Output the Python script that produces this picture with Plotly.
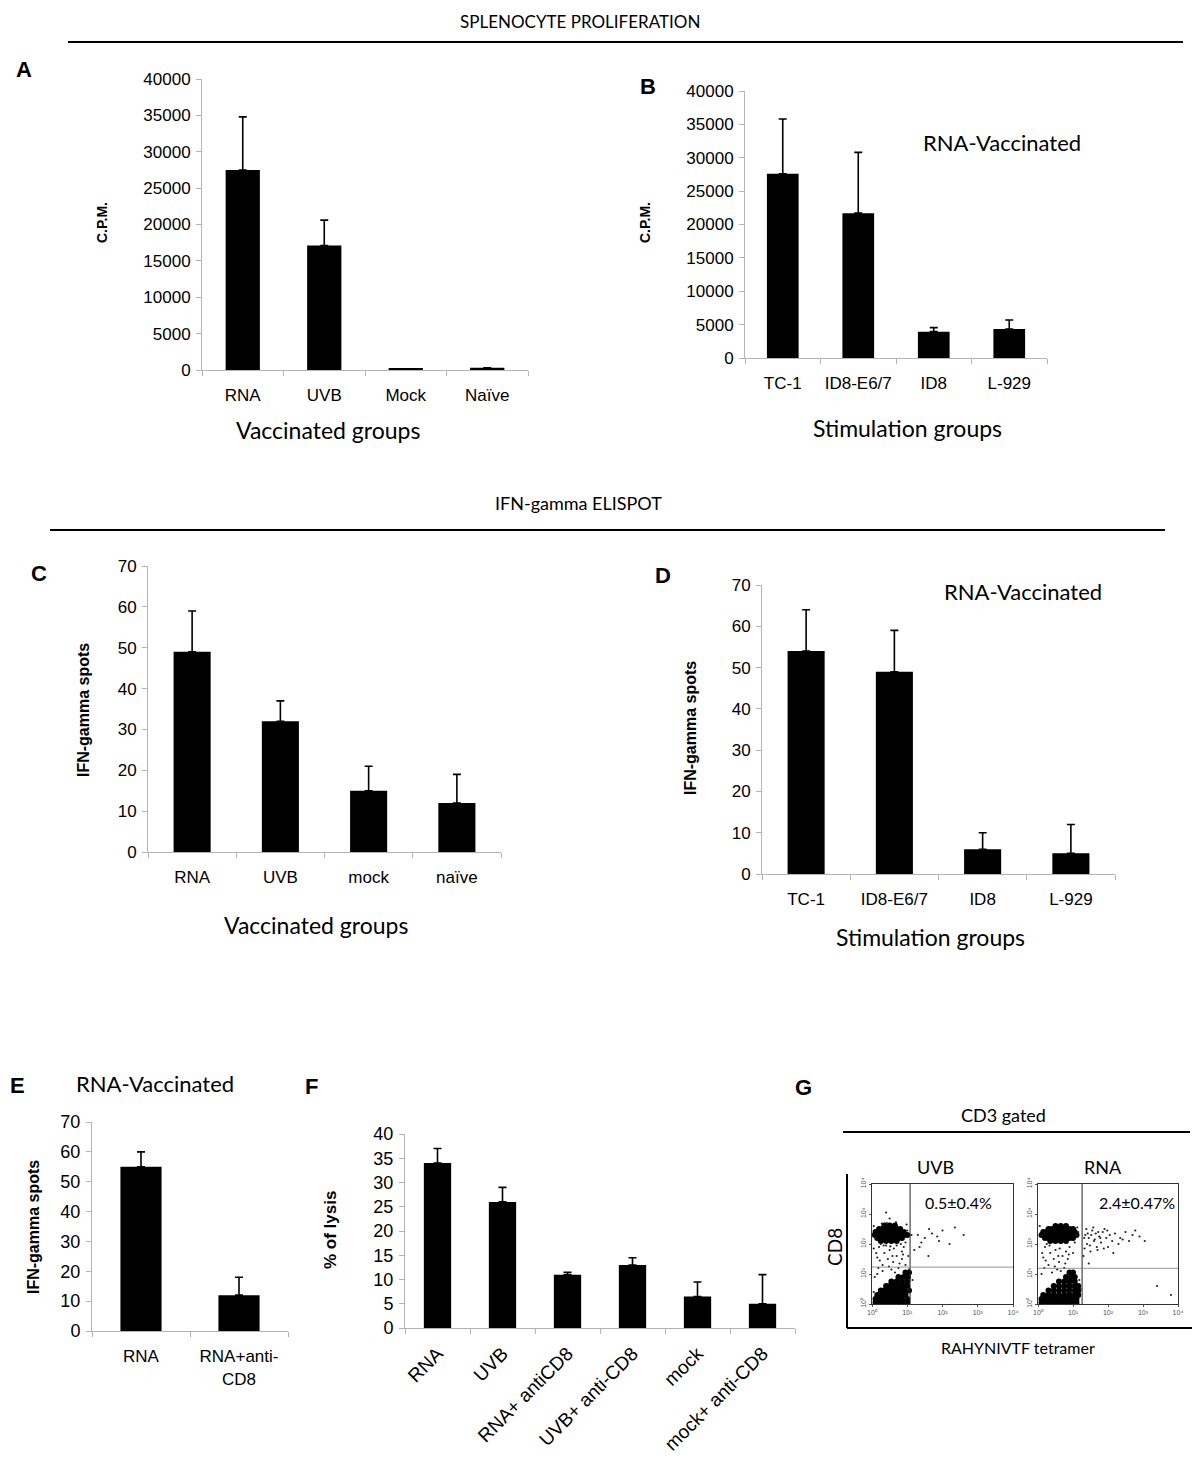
import plotly.graph_objects as go

# ---------------- DATA ----------------
a_groups = ["RNA", "UVB", "Mock", "Naïve"]
a_cpm = [27500, 17100, 150, 300]
a_sd = [7300, 3500, 0, 0]

b_groups = ["TC-1", "ID8-E6/7", "ID8", "L-929"]
b_cpm = [27600, 21700, 3950, 4350]
b_sd = [8200, 9100, 600, 1350]

c_groups = ["RNA", "UVB", "mock", "naïve"]
c_spots = [49, 32, 15, 12]
c_sd = [10, 5, 6, 7]

d_groups = ["TC-1", "ID8-E6/7", "ID8", "L-929"]
d_spots = [54, 49, 6, 5]
d_sd = [10, 10, 4, 7]

e_groups = ["RNA", "RNA+anti-<br>CD8"]
e_spots = [55, 12]
e_sd = [5, 6]

f_groups = ["RNA", "UVB", "RNA+ antiCD8", "UVB+ anti-CD8", "mock", "mock+ anti-CD8"]
f_lysis = [34, 26, 11, 13, 6.5, 5]
f_sd = [3, 3, 0.5, 1.5, 3, 6]

cpm_ticks = [0, 5000, 10000, 15000, 20000, 25000, 30000, 35000, 40000]
spot_ticks = [0, 10, 20, 30, 40, 50, 60, 70]
lysis_ticks = [0, 5, 10, 15, 20, 25, 30, 35, 40]

# flow cytometry (log10 decades), event positions
decade_vals = [0, 1, 2, 3, 4]
decade_text = ["10⁰", "10¹", "10²", "10³", "10⁴"]
uvb_gate = [1.08, 1.23]
rna_gate = [1.26, 1.19]

# dense event clouds (rows of events)
uvb_blob_x = [0.35, 0.5, 0.65,
              0.2, 0.3, 0.4, 0.5, 0.6, 0.7, 0.8,
              0.1, 0.2, 0.3, 0.4, 0.5, 0.6, 0.7, 0.8, 0.9,
              0.08, 0.2, 0.3, 0.4, 0.5, 0.6, 0.7, 0.8, 0.9, 1.0,
              0.15, 0.25, 0.35, 0.45, 0.55, 0.65, 0.75, 0.85,
              0.25, 0.4, 0.55, 0.7,
              0.1, 0.2, 0.3, 0.4, 0.5, 0.6, 0.7, 0.8, 0.9, 1.0,
              0.1, 0.2, 0.3, 0.4, 0.5, 0.6, 0.7, 0.8, 0.9, 1.0,
              0.15, 0.25, 0.35, 0.45, 0.55, 0.65, 0.75, 0.85, 0.95,
              0.25, 0.35, 0.45, 0.55, 0.65, 0.75, 0.85, 0.95, 1.05,
              0.4, 0.5, 0.6, 0.7, 0.8, 0.9, 1.0,
              0.55, 0.7, 0.85, 1.0,
              0.75, 0.9, 1.02,
              0.95, 1.05]
uvb_blob_y = [2.62, 2.62, 2.62,
              2.5, 2.5, 2.5, 2.5, 2.5, 2.5, 2.5,
              2.4, 2.4, 2.4, 2.4, 2.4, 2.4, 2.4, 2.4, 2.4,
              2.3, 2.3, 2.3, 2.3, 2.3, 2.3, 2.3, 2.3, 2.3, 2.3,
              2.2, 2.2, 2.2, 2.2, 2.2, 2.2, 2.2, 2.2,
              2.1, 2.1, 2.1, 2.1,
              0.05, 0.05, 0.05, 0.05, 0.05, 0.05, 0.05, 0.05, 0.05, 0.05,
              0.17, 0.17, 0.17, 0.17, 0.17, 0.17, 0.17, 0.17, 0.17, 0.17,
              0.3, 0.3, 0.3, 0.3, 0.3, 0.3, 0.3, 0.3, 0.3,
              0.45, 0.45, 0.45, 0.45, 0.45, 0.45, 0.45, 0.45, 0.45,
              0.6, 0.6, 0.6, 0.6, 0.6, 0.6, 0.6,
              0.75, 0.75, 0.75, 0.75,
              0.9, 0.9, 0.9,
              1.05, 1.05]
uvb_dot_x = [0.2, 0.35, 0.5, 0.7, 0.9, 0.6, 0.3, 0.85, 0.15, 0.45, 0.95, 0.75, 0.25, 0.95, 1.0,
             1.3, 1.5, 1.7, 1.9, 2.2, 2.6, 1.4, 2.0, 1.2, 1.6, 0.5, 0.4, 0.1, 0.08, 1.02,
             0.65, 0.55, 0.3, 0.85, 0.15, 1.05, 0.05, 0.4, 0.7, 0.95, 0.12, 0.22, 0.62, 0.78,
             0.33, 0.48, 0.88, 0.18, 0.58, 0.05, 1.12, 1.15, 0.05, 0.98, 0.42, 0.68, 0.28,
             0.52, 0.82, 1.03, 1.35, 1.62, 2.35, 1.85]
uvb_dot_y = [1.9, 1.7, 1.8, 1.6, 1.9, 1.4, 1.3, 1.5, 1.55, 1.5, 1.3, 1.2, 2.0, 2.05, 2.45,
             2.3, 2.2, 2.35, 2.1, 2.0, 2.3, 2.05, 2.45, 1.8, 1.6, 2.85, 3.05, 2.2, 0.9, 0.5,
             1.05, 1.15, 1.1, 1.75, 1.0, 1.15, 0.4, 1.95, 1.95, 0.2, 1.7, 1.45, 1.85, 1.35,
             1.95, 1.25, 1.65, 1.2, 1.6, 1.85, 2.3, 0.8, 2.6, 2.65, 2.7, 2.72, 2.68,
             1.92, 2.0, 1.6, 1.9, 2.5, 2.55, 2.25]

rna_blob_x = [0.5, 0.65, 0.8,
              0.3, 0.4, 0.5, 0.6, 0.7, 0.8, 0.9, 1.0,
              0.15, 0.25, 0.35, 0.45, 0.55, 0.65, 0.75, 0.85, 0.95, 1.05,
              0.1, 0.2, 0.3, 0.4, 0.5, 0.6, 0.7, 0.8, 0.9, 1.0, 1.1,
              0.2, 0.3, 0.4, 0.5, 0.6, 0.7, 0.8, 0.9, 1.0,
              0.35, 0.5, 0.65, 0.8,
              0.1, 0.2, 0.3, 0.4, 0.5, 0.6, 0.7, 0.8, 0.9, 1.0, 1.1,
              0.1, 0.2, 0.3, 0.4, 0.5, 0.6, 0.7, 0.8, 0.9, 1.0, 1.1,
              0.15, 0.3, 0.45, 0.6, 0.75, 0.9, 1.05, 1.15,
              0.3, 0.45, 0.6, 0.75, 0.9, 1.05, 1.15,
              0.45, 0.6, 0.75, 0.9, 1.05, 1.15,
              0.6, 0.75, 0.9, 1.05,
              0.8, 0.95, 1.05,
              0.9, 1.0]
rna_blob_y = [2.6, 2.6, 2.6,
              2.5, 2.5, 2.5, 2.5, 2.5, 2.5, 2.5, 2.5,
              2.4, 2.4, 2.4, 2.4, 2.4, 2.4, 2.4, 2.4, 2.4, 2.4,
              2.3, 2.3, 2.3, 2.3, 2.3, 2.3, 2.3, 2.3, 2.3, 2.3, 2.3,
              2.2, 2.2, 2.2, 2.2, 2.2, 2.2, 2.2, 2.2, 2.2,
              2.1, 2.1, 2.1, 2.1,
              0.05, 0.05, 0.05, 0.05, 0.05, 0.05, 0.05, 0.05, 0.05, 0.05, 0.05,
              0.17, 0.17, 0.17, 0.17, 0.17, 0.17, 0.17, 0.17, 0.17, 0.17, 0.17,
              0.3, 0.3, 0.3, 0.3, 0.3, 0.3, 0.3, 0.3,
              0.45, 0.45, 0.45, 0.45, 0.45, 0.45, 0.45,
              0.6, 0.6, 0.6, 0.6, 0.6, 0.6,
              0.75, 0.75, 0.75, 0.75,
              0.9, 0.9, 0.9,
              1.05, 1.05]
rna_dot_x = [0.2, 0.35, 0.5, 0.7, 0.9, 0.6, 0.3, 0.85, 0.15, 0.45, 1.1, 0.75, 0.25, 1.05, 1.15,
             1.35, 1.45, 1.55, 1.65, 1.75, 1.85, 1.95, 2.05, 2.2, 2.35, 2.5, 2.7, 2.9, 1.4, 1.6,
             1.8, 2.0, 2.3, 1.5, 1.7, 1.9, 2.15, 2.6, 1.3, 1.45, 0.65, 0.55, 0.4, 1.0, 0.1,
             0.95, 0.8, 3.4, 3.8, 1.32, 1.42, 1.52, 1.62, 1.72, 1.38, 1.58, 1.78, 1.98, 2.12,
             2.42, 2.78, 3.05, 1.48, 1.68, 1.88, 1.33, 0.12, 0.22, 0.62, 0.78, 0.33, 0.48, 0.88,
             0.18, 0.58, 1.18, 1.22, 0.05, 1.12]
rna_dot_y = [1.9, 1.7, 1.8, 1.6, 1.9, 1.4, 1.3, 1.5, 1.55, 1.5, 2.3, 1.2, 2.0, 2.05, 2.4,
             2.3, 2.2, 2.45, 2.35, 2.25, 2.4, 2.2, 2.3, 2.35, 2.2, 2.4, 2.3, 2.25, 2.0, 2.1,
             2.05, 1.9, 2.0, 1.75, 1.8, 2.5, 1.7, 2.1, 1.6, 1.35, 1.1, 1.15, 1.05, 1.7, 1.0,
             0.4, 1.75, 0.6, 0.3, 2.2, 2.35, 2.3, 2.15, 2.4, 2.5, 2.55, 2.2, 2.45, 2.1,
             2.15, 2.45, 2.1, 1.95, 1.9, 1.85, 1.85, 1.7, 1.45, 1.85, 1.35, 1.95, 1.25, 1.65,
             1.2, 1.6, 0.8, 0.5, 2.6, 2.55]

# ---------------- HELPERS ----------------
W, H = 1200, 1481
OFF = 8  # page body margin


def fx(p):
    return (p - OFF) / W


def fy(p):
    return 1 - (p - OFF) / H


ARIAL = "Arial, Liberation Sans, sans-serif"
HUM = "Lato, Open Sans, sans-serif"
AXC = "#b4b4b4"

fig = go.Figure()

bar_panels = [
    ("x", "y", a_groups, a_cpm, a_sd),
    ("x2", "y2", b_groups, b_cpm, b_sd),
    ("x3", "y3", c_groups, c_spots, c_sd),
    ("x4", "y4", d_groups, d_spots, d_sd),
    ("x5", "y5", e_groups, e_spots, e_sd),
    ("x6", "y6", f_groups, f_lysis, f_sd),
]
for xa, ya, cats, vals, sd in bar_panels:
    fig.add_trace(go.Bar(
        x=cats, y=vals, xaxis=xa, yaxis=ya,
        marker=dict(color="black", line=dict(width=0)),
        error_y=dict(type="data", array=sd, arrayminus=[0] * len(sd), symmetric=False,
                     color="black", thickness=1.6, width=4, visible=True),
        showlegend=False, hoverinfo="skip",
    ))

for xa, ya, bx, by, dx, dy in [
    ("x7", "y7", uvb_blob_x, uvb_blob_y, uvb_dot_x, uvb_dot_y),
    ("x8", "y8", rna_blob_x, rna_blob_y, rna_dot_x, rna_dot_y),
]:
    fig.add_trace(go.Scatter(x=bx, y=by, xaxis=xa, yaxis=ya, mode="markers",
                             marker=dict(color="black", size=6, line=dict(width=0)),
                             showlegend=False, hoverinfo="skip"))
    fig.add_trace(go.Scatter(x=dx, y=dy, xaxis=xa, yaxis=ya, mode="markers",
                             marker=dict(color="#222", size=2.2, line=dict(width=0)),
                             showlegend=False, hoverinfo="skip"))


def cat_xaxis(x0, x1, angle=0, standoff=10, size=17):
    return dict(domain=[fx(x0), fx(x1)], showline=True, linecolor=AXC, linewidth=1,
                ticks="outside", tickson="boundaries", ticklen=5, tickcolor=AXC,
                showgrid=False, zeroline=False, tickangle=angle, automargin=False,
                tickfont=dict(family=ARIAL, size=size, color="black"),
                ticklabelstandoff=standoff, fixedrange=True)


def val_yaxis(y0, y1, rng, tickv, size=17):
    return dict(domain=[fy(y1), fy(y0)], range=rng, tickvals=tickv, tickformat="d",
                showline=True, automargin=False,
                linecolor=AXC, linewidth=1, ticks="outside", ticklen=5, tickcolor=AXC,
                showgrid=False, zeroline=False,
                tickfont=dict(family=ARIAL, size=size, color="black"),
                ticklabelstandoff=2, fixedrange=True)


L = {}
specs = [
    ("", (202, 528), (79, 370), [0, 40000], cpm_ticks, 0, 10, 17, 17),
    ("2", (745, 1047), (91, 358), [0, 40000], cpm_ticks, 0, 10, 17, 17),
    ("3", (148, 501), (566, 852), [0, 70], spot_ticks, 0, 10, 17, 17),
    ("4", (762, 1115), (585, 874), [0, 70], spot_ticks, 0, 10, 17, 17),
    ("5", (92, 288), (1122, 1331), [0, 70], spot_ticks, 0, 10, 17, 18),
    ("6", (405, 795), (1134, 1328), [0, 40], lysis_ticks, -45, 6, 19, 18),
]
for s, xr, yr, rng, tv, ang, so, xs, ys in specs:
    xd = cat_xaxis(xr[0], xr[1], angle=ang, standoff=so, size=xs)
    xd["anchor"] = "y" + s
    yd = val_yaxis(yr[0], yr[1], rng, tv, size=ys)
    yd["anchor"] = "x" + s
    L["xaxis" + s] = xd
    L["yaxis" + s] = yd


def flow_axes(x0, x1, y0, y1, xa, ya):
    common = dict(range=[0, 4], showline=True, mirror=True, linecolor="#333", linewidth=1,
                  showgrid=False, zeroline=False, tickvals=decade_vals, ticktext=decade_text,
                  ticks="outside", ticklen=2, tickcolor="#555", automargin=False,
                  tickfont=dict(family=ARIAL, size=7, color="#555"), fixedrange=True)
    xd = dict(domain=[fx(x0), fx(x1)], anchor=ya, **common)
    yd = dict(domain=[fy(y1), fy(y0)], anchor=xa, tickangle=-90, **common)
    return xd, yd


L["xaxis7"], L["yaxis7"] = flow_axes(872, 1013, 1184, 1304, "x7", "y7")
L["xaxis8"], L["yaxis8"] = flow_axes(1038, 1178, 1184, 1304, "x8", "y8")

shapes = []


def pline(x0, y0, x1, y1, w=2, c="black"):
    shapes.append(dict(type="line", xref="paper", yref="paper", x0=fx(x0), y0=fy(y0),
                       x1=fx(x1), y1=fy(y1), line=dict(color=c, width=w)))


pline(68, 42, 1183, 42, 2)
pline(50, 530, 1165, 530, 2)
pline(843, 1132, 1190, 1132, 2)
pline(847, 1174, 847, 1328, 2)
pline(847, 1328, 1192, 1328, 2)

for xa, ya, gate in [("x7", "y7", uvb_gate), ("x8", "y8", rna_gate)]:
    shapes.append(dict(type="line", xref=xa, yref=ya, x0=gate[0], x1=gate[0], y0=0, y1=4,
                       line=dict(color="#222", width=1)))
    shapes.append(dict(type="line", xref=xa, yref=ya, x0=0, x1=4, y0=gate[1], y1=gate[1],
                       line=dict(color="#777", width=0.8)))

annotations = []


def ann(text, x, y, size, family=HUM, bold=False, angle=0, color="black"):
    t = f"<b>{text}</b>" if bold else text
    annotations.append(dict(text=t, x=fx(x), y=fy(y), xref="paper", yref="paper",
                            showarrow=False, xanchor="center", yanchor="middle", textangle=angle,
                            font=dict(family=family, size=size, color=color)))


ann("SPLENOCYTE PROLIFERATION", 580, 21, 17)
ann("IFN-gamma ELISPOT", 578, 503, 18)

for letter, x, y in [("A", 24, 70), ("B", 648, 86), ("C", 39, 573), ("D", 663, 575),
                     ("E", 17, 1085), ("F", 311, 1086), ("G", 803, 1087)]:
    ann(letter, x, y, 22, family=ARIAL, bold=True)

ann("C.P.M.", 102, 223, 14, family=ARIAL, bold=True, angle=-90)
ann("C.P.M.", 645, 223, 14, family=ARIAL, bold=True, angle=-90)
ann("IFN-gamma spots", 83, 710, 16, family=ARIAL, bold=True, angle=-90)
ann("IFN-gamma spots", 690, 728, 16, family=ARIAL, bold=True, angle=-90)
ann("IFN-gamma spots", 33, 1227, 16, family=ARIAL, bold=True, angle=-90)
ann("% of lysis", 330, 1230, 17, family=ARIAL, bold=True, angle=-90)

ann("Vaccinated groups", 328, 430, 23)
ann("Stimulation groups", 907, 428, 23)
ann("Vaccinated groups", 316, 925, 23)
ann("Stimulation groups", 930, 937, 23)

ann("RNA-Vaccinated", 1002, 143, 22)
ann("RNA-Vaccinated", 1023, 591, 22)
ann("RNA-Vaccinated", 155, 1083, 22)

ann("CD3 gated", 1003, 1115, 18)
ann("UVB", 935, 1167, 18)
ann("RNA", 1103, 1167, 18)
ann("0.5±0.4%", 958, 1202, 16)
ann("2.4±0.47%", 1137, 1202, 16)
ann("CD8", 834, 1247, 19, angle=-90)
ann("RAHYNIVTF tetramer", 1018, 1347, 16)

fig.update_layout(
    width=W, height=H, margin=dict(l=0, r=0, t=0, b=0, autoexpand=False),
    paper_bgcolor="white", plot_bgcolor="white",
    bargap=0.58, showlegend=False,
    shapes=shapes, annotations=annotations,
    **L,
)

fig.write_html("out.html")
